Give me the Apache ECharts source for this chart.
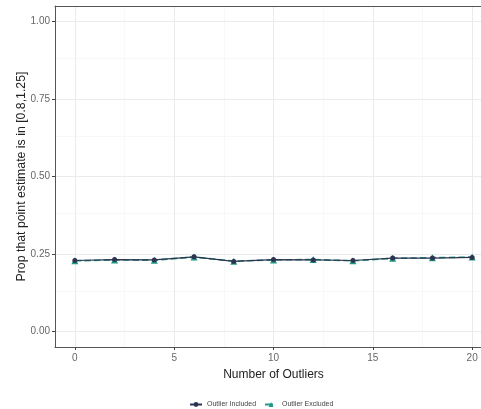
<!DOCTYPE html>
<html><head><meta charset="utf-8">
<script src="https://cdn.jsdelivr.net/npm/echarts@6/dist/echarts.min.js"></script>
<style>html,body{margin:0;padding:0;background:#fff}#c{width:481px;height:409px}</style>
</head><body><div id="c"></div>
<script>
const outliers = [0, 2, 4, 6, 8, 10, 12, 14, 16, 18, 20];
const included = [0.229, 0.232, 0.231, 0.241, 0.226, 0.232, 0.231, 0.229, 0.237, 0.237, 0.239];
const excluded = [0.228, 0.231, 0.230, 0.240, 0.227, 0.231, 0.232, 0.228, 0.236, 0.238, 0.240];
const xTicks = [0, 5, 10, 15, 20];
const xMinor = [2.5, 7.5, 12.5, 17.5];
const yTicks = [0, 0.25, 0.5, 0.75, 1];
const yMinor = [0.125, 0.375, 0.625, 0.875];
const yTickLabels = ['0.00', '0.25', '0.50', '0.75', '1.00'];
const seriesNames = ['Outlier Included', 'Outlier Excluded'];

const font = 'Liberation Sans, Arial, sans-serif';
const gridMarks = [];
xMinor.forEach(v => gridMarks.push({xAxis: v, lineStyle: {color: '#f3f3f3', width: 0.6, type: 'solid'}}));
yMinor.forEach(v => gridMarks.push({yAxis: v, lineStyle: {color: '#f3f3f3', width: 0.6, type: 'solid'}}));
xTicks.forEach(v => gridMarks.push({xAxis: v, lineStyle: {color: '#ebebeb', width: 1, type: 'solid'}}));
yTicks.forEach(v => gridMarks.push({yAxis: v, lineStyle: {color: '#ebebeb', width: 1, type: 'solid'}}));

const chart = echarts.init(document.getElementById('c'));
chart.setOption({
  animation: false,
  backgroundColor: '#fff',
  grid: {left: 55, top: 6, width: 437, height: 341, show: false,
    outerBoundsMode: 'none', containLabel: false},
  xAxis: [{
    type: 'value', min: -1, max: 21,
    name: 'Number of Outliers', nameLocation: 'middle', nameGap: 22, nameMoveOverlap: false,
    nameTextStyle: {fontFamily: font, fontSize: 12, color: '#222'},
    axisLine: {show: true, onZero: false, lineStyle: {color: '#555', width: 1}},
    axisTick: {show: true, length: 3, lineStyle: {color: '#444'}, customValues: xTicks},
    axisLabel: {fontFamily: font, fontSize: 10, color: '#666', margin: 6, customValues: xTicks},
    splitLine: {show: false}
  }, {
    type: 'value', min: -1, max: 21, position: 'top',
    axisLine: {show: true, onZero: false, lineStyle: {color: '#555', width: 1}},
    axisTick: {show: false}, axisLabel: {show: false}, splitLine: {show: false}
  }],
  yAxis: {
    type: 'value', min: -0.05, max: 1.05,
    name: 'Prop that point estimate is in [0.8,1.25]', nameLocation: 'middle', nameGap: 27, nameMoveOverlap: false,
    nameTextStyle: {fontFamily: font, fontSize: 12.3, color: '#222'},
    axisLine: {show: true, onZero: false, lineStyle: {color: '#555', width: 1}},
    axisTick: {show: true, length: 3, lineStyle: {color: '#444'}, customValues: yTicks},
    axisLabel: {fontFamily: font, fontSize: 10, color: '#666', margin: 5, customValues: yTicks,
      formatter: v => { const i = yTicks.indexOf(v); return i >= 0 ? yTickLabels[i] : ''; }},
    splitLine: {show: false}
  },
  legend: {
    top: 396, left: 184, itemWidth: 12, itemHeight: 6, itemGap: 8,
    textStyle: {fontFamily: font, fontSize: 7, color: '#444'},
    data: seriesNames
  },
  series: [
    {
      type: 'line', name: '_grid', data: [], silent: true,
      markLine: {silent: true, symbol: 'none', label: {show: false}, data: gridMarks, z: 0}
    },
    {
      type: 'line', name: seriesNames[1], data: outliers.map((x, i) => [x, excluded[i]]),
      symbol: 'triangle', symbolSize: 7,
      itemStyle: {color: '#1f9a84'},
      lineStyle: {color: '#1f9a84', width: 1.6, type: 'dashed'}, z: 3
    },
    {
      type: 'line', name: seriesNames[0], data: outliers.map((x, i) => [x, included[i]]),
      symbol: 'circle', symbolSize: 5,
      itemStyle: {color: '#2e3350'},
      lineStyle: {color: '#2e3350', width: 1.2, type: 'solid'}, z: 4
    }
  ]
});
</script></body></html>
